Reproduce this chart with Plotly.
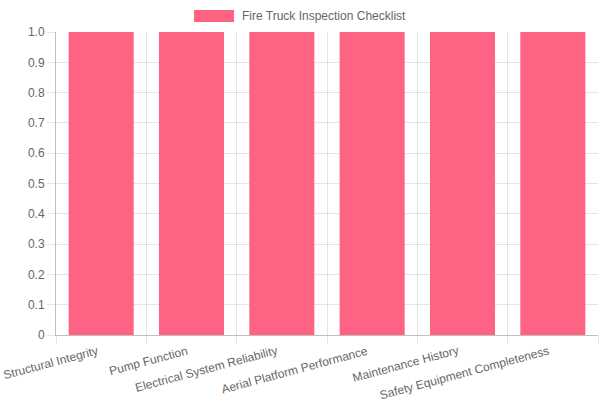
import plotly.graph_objects as go

categories = ["Structural Integrity", "Pump Function", "Electrical System Reliability",
              "Aerial Platform Performance", "Maintenance History", "Safety Equipment Completeness"]
values = [1, 1, 1, 1, 1, 1]
series_name = "Fire Truck Inspection Checklist"
y_tick_vals = [0, 0.1, 0.2, 0.3, 0.4, 0.5, 0.6, 0.7, 0.8, 0.9, 1.0]
y_tick_text = ["0", "0.1", "0.2", "0.3", "0.4", "0.5", "0.6", "0.7", "0.8", "0.9", "1.0"]

pink = "rgb(255,99,132)"
grid = "rgba(0,0,0,0.1)"
font = "Liberation Sans, Arial, sans-serif"

fig = go.Figure()
fig.add_trace(go.Bar(x=categories, y=values, name=series_name, marker_color=pink,
                     marker_line_width=0, showlegend=False, hoverinfo="skip"))

fig.update_layout(
    width=600, height=400,
    margin=dict(l=56, r=2, t=32, b=65),
    paper_bgcolor="white", plot_bgcolor="white",
    bargap=0.28,
    font=dict(family=font, size=12, color="#666"),
)
fig.update_xaxes(type="category", categoryorder="array", categoryarray=categories,
                 range=[-0.5, len(categories) - 0.5], autorange=False,
                 tickson="boundaries", showgrid=True, gridcolor=grid,
                 ticks="outside", ticklen=8, tickcolor=grid, showticklabels=False,
                 showline=True, linecolor="rgba(0,0,0,0.25)", linewidth=1,
                 automargin=False)
fig.update_yaxes(range=[0, 1], autorange=False, tickvals=y_tick_vals, ticktext=y_tick_text,
                 showgrid=True, gridcolor=grid, ticks="outside", ticklen=8, tickcolor=grid,
                 showline=True, linecolor="rgba(0,0,0,0.25)", linewidth=1, zeroline=False,
                 tickfont=dict(size=12, color="#666"), automargin=False)

# rotated category labels, right end at each category centre
for i, c in enumerate(categories):
    fig.add_annotation(x=i, xref="x", y=0, yref="paper", text=c, showarrow=False,
                       xanchor="right", yanchor="top", textangle=-15, yshift=-6,
                       font=dict(size=12, color="#666", family=font))

# legend-like box and label
fig.add_shape(type="rect", xref="paper", yref="paper",
              x0=(194 - 56) / 542, x1=(234 - 56) / 542,
              y0=(335 - 10) / 303, y1=(335 - 22) / 303,
              fillcolor=pink, line_width=0)
fig.add_annotation(xref="paper", yref="paper", x=(240 - 56) / 542, y=(335 - 16) / 303,
                   text=series_name, showarrow=False, xanchor="left", yanchor="middle",
                   font=dict(size=12, color="#666", family=font))

fig.write_html("out.html", config={"displayModeBar": False},
               post_script="document.body.style.margin='0';document.body.style.padding='0';document.body.style.overflow='hidden';")
